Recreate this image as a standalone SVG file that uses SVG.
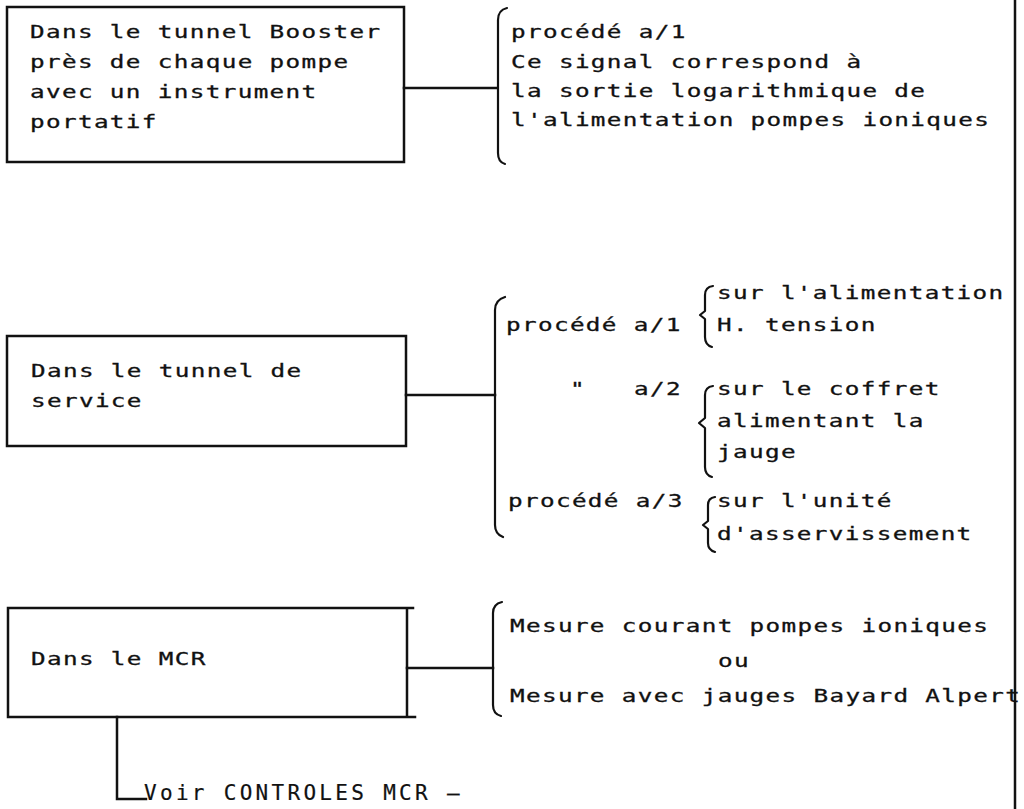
<svg xmlns="http://www.w3.org/2000/svg" width="1024" height="809" viewBox="0 0 1024 809">
<style>
  .ln { fill: none; stroke: #111; stroke-width: 2.5; stroke-linecap: square; }
  .br { fill: none; stroke: #111; stroke-width: 2.2; stroke-linejoin: round; stroke-linecap: round; }
  text { font-family: "DejaVu Sans Mono", "Liberation Mono", monospace; font-size: 18px; letter-spacing: 1.0px; fill: #111; stroke: #111; stroke-width: 0.3; }
  .big { font-size: 21px; letter-spacing: 3.3px; stroke-width: 0.2; }
</style>
<rect x="0" y="0" width="1024" height="809" fill="#fff"/>

<g id="node-booster">
  <rect class="ln" x="7" y="7" width="397" height="155"/>
  <g transform="scale(1.35 1)">
    <text x="22.22" y="38">Dans le tunnel Booster</text>
    <text x="22.22" y="68">près de chaque pompe</text>
    <text x="22.22" y="98">avec un instrument</text>
    <text x="22.22" y="128">portatif</text>
  </g>
</g>

<g id="note-booster">
  <g transform="scale(1.35 1)">
    <text x="378.52" y="38">procédé a/1</text>
    <text x="378.52" y="68">Ce signal correspond à</text>
    <text x="378.52" y="97">la sortie logarithmique de</text>
    <text x="378.52" y="126">l'alimentation pompes ioniques</text>
  </g>
</g>

<g id="node-service">
  <rect class="ln" x="7" y="336" width="399" height="110"/>
  <g transform="scale(1.35 1)">
    <text x="22.96" y="377">Dans le tunnel de</text>
    <text x="22.96" y="407">service</text>
  </g>
</g>

<g id="note-service">
  <g transform="scale(1.35 1)">
    <text x="531.11" y="299">sur l'alimentation</text>
    <text x="374.81" y="331">procédé a/1</text>
    <text x="531.11" y="331">H. tension</text>
    <text x="422.22" y="395">"</text>
    <text x="469.63" y="395">a/2</text>
    <text x="531.11" y="395">sur le coffret</text>
    <text x="531.11" y="427">alimentant la</text>
    <text x="531.11" y="458">jauge</text>
    <text x="376.30" y="507">procédé a/3</text>
    <text x="531.11" y="507">sur l'unité</text>
    <text x="531.11" y="540">d'asservissement</text>
  </g>
</g>

<g id="node-mcr">
  <path class="ln" d="M8 608 H413 M8 717 H415 M8 608 V717 M407 608 V717"/>
  <g transform="scale(1.35 1)">
    <text x="22.96" y="665">Dans le MCR</text>
  </g>
</g>

<g id="note-mcr">
  <g transform="scale(1.35 1)">
    <text x="377.78" y="632">Mesure courant pompes ioniques</text>
    <text x="531.85" y="667">ou</text>
    <text x="377.78" y="702">Mesure avec jauges Bayard Alpert</text>
  </g>
</g>

<g id="note-voir">
  <text class="big" x="144" y="800">Voir CONTROLES MCR –</text>
</g>

<g id="connectors">
  <path class="ln" d="M404 88 H497"/>
  <path class="ln" d="M406 395 H495"/>
  <path class="ln" d="M407 668 H493"/>
  <path class="ln" d="M117 717 V799 H146"/>
  <path class="ln" d="M1015 0 V809"/>
  <path class="br" d="M507 8 Q498 10 498 20 L498 153 Q498 162 505 164"/>
  <path class="br" d="M505 297 Q495 300 495 310 L495 525 Q495 534 503 537"/>
  <path class="br" d="M502 602 Q493 604 493 613 L493 705 Q493 714 501 716"/>
  <path class="br" d="M713 286 Q705 287 705 295 L705 311 L700 315 L705 319 L705 337 Q705 345 712 347"/>
  <path class="br" d="M713 386 Q705 387 705 395 L705 418 L699 423 L705 428 L705 467 Q705 475 712 477"/>
  <path class="br" d="M715 497 Q708 498 708 505 L708 521 L703 525 L708 529 L708 543 Q708 550 715 552"/>
</g>
</svg>
